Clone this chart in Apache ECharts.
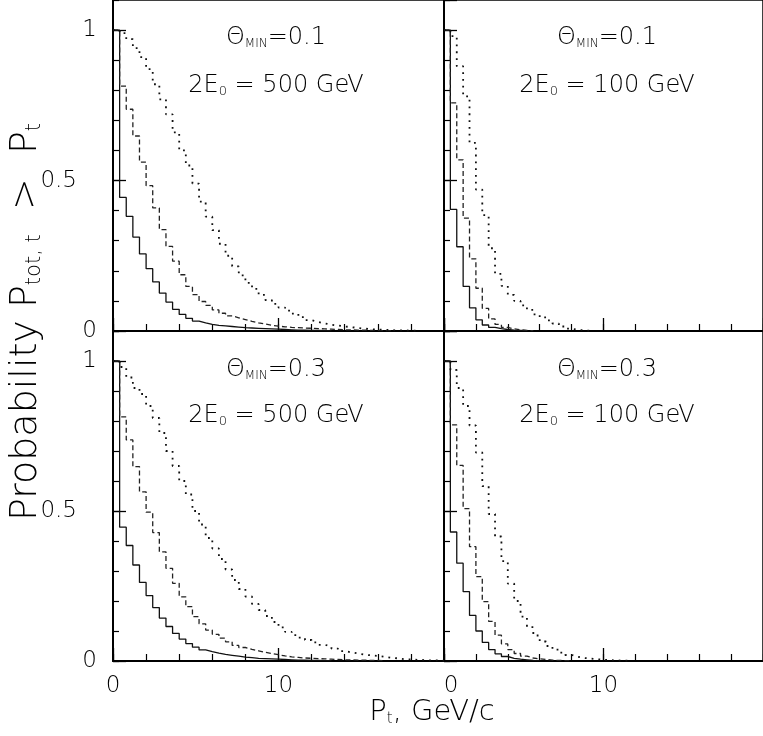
<!DOCTYPE html>
<html>
<head>
<meta charset="utf-8">
<script src="https://cdn.jsdelivr.net/npm/echarts@6/dist/echarts.min.js"></script>
<style>
  html, body { margin: 0; padding: 0; background: #fff; }
  #chart { width: 763px; height: 736px; }
</style>
</head>
<body>
<div id="chart"></div>
<script>
// histogram bin width in GeV/c, every panel starts at 0
var binWidth = 0.4;

// tick labels
var xTickLabels = [0, 10];
var yTickLabels = [0, 0.5, 1];

// Theta_min = 0.1, 2E0 = 500 GeV (top left)
var tlSolid = [1.0, 0.444, 0.381, 0.312, 0.256, 0.207, 0.163, 0.126, 0.096, 0.072, 0.055, 0.042, 0.033, 0.027, 0.022, 0.019, 0.017, 0.015, 0.013, 0.011, 0.010, 0.009, 0.008, 0.007, 0.006, 0.005, 0.004, 0.003, 0.003, 0.002, 0.002, 0.001, 0.001];
var tlDashed = [1.0, 0.814, 0.737, 0.648, 0.561, 0.483, 0.409, 0.337, 0.281, 0.232, 0.187, 0.148, 0.121, 0.098, 0.085, 0.070, 0.059, 0.050, 0.044, 0.038, 0.032, 0.027, 0.023, 0.019, 0.016, 0.014, 0.012, 0.011, 0.010, 0.009, 0.008, 0.007, 0.006, 0.005, 0.004, 0.004, 0.003, 0.003, 0.002, 0.002, 0.001, 0.001];
var tlDotted = [1.0, 0.99, 0.97, 0.94, 0.91, 0.87, 0.82, 0.77, 0.72, 0.66, 0.60, 0.55, 0.49, 0.43, 0.38, 0.335, 0.29, 0.25, 0.215, 0.185, 0.16, 0.14, 0.12, 0.103, 0.09, 0.078, 0.068, 0.058, 0.046, 0.036, 0.030, 0.025, 0.021, 0.018, 0.015, 0.013, 0.010, 0.008, 0.006, 0.005, 0.004, 0.003, 0.002, 0.002, 0.001, 0.001];

// Theta_min = 0.1, 2E0 = 100 GeV (top right)
var trSolid = [1.0, 0.404, 0.28, 0.148, 0.077, 0.037, 0.020, 0.012, 0.008, 0.005, 0.003, 0.002, 0.001];
var trDashed = [1.0, 0.758, 0.569, 0.375, 0.24, 0.142, 0.075, 0.040, 0.022, 0.012, 0.007, 0.004, 0.002, 0.001];
var trDotted = [1.0, 0.98, 0.88, 0.78, 0.625, 0.47, 0.385, 0.275, 0.19, 0.15, 0.12, 0.10, 0.085, 0.07, 0.055, 0.045, 0.035, 0.025, 0.015, 0.008, 0.004, 0.002, 0.001];

// Theta_min = 0.3, 2E0 = 500 GeV (bottom left)
var blSolid = [1.0, 0.446, 0.385, 0.32, 0.262, 0.218, 0.178, 0.143, 0.115, 0.092, 0.073, 0.058, 0.046, 0.037, 0.031, 0.026, 0.022, 0.019, 0.016, 0.013, 0.011, 0.009, 0.008, 0.007, 0.006, 0.005, 0.004, 0.003, 0.003, 0.002, 0.002, 0.001, 0.001];
var blDashed = [1.0, 0.814, 0.737, 0.648, 0.564, 0.496, 0.428, 0.364, 0.309, 0.259, 0.214, 0.181, 0.148, 0.124, 0.103, 0.089, 0.076, 0.064, 0.052, 0.045, 0.039, 0.034, 0.029, 0.025, 0.021, 0.017, 0.014, 0.012, 0.010, 0.009, 0.008, 0.007, 0.006, 0.005, 0.004, 0.004, 0.003, 0.003, 0.002, 0.002, 0.001];
var blDotted = [1.0, 0.98, 0.945, 0.91, 0.89, 0.85, 0.81, 0.76, 0.70, 0.65, 0.60, 0.555, 0.50, 0.455, 0.41, 0.375, 0.34, 0.305, 0.27, 0.24, 0.215, 0.19, 0.17, 0.15, 0.13, 0.112, 0.097, 0.086, 0.078, 0.070, 0.062, 0.054, 0.048, 0.041, 0.033, 0.029, 0.025, 0.021, 0.019, 0.017, 0.014, 0.011, 0.009, 0.006, 0.005, 0.004, 0.003, 0.002, 0.002, 0.001];

// Theta_min = 0.3, 2E0 = 100 GeV (bottom right)
var brSolid = [1.0, 0.43, 0.326, 0.231, 0.152, 0.10, 0.062, 0.038, 0.024, 0.015, 0.009, 0.006, 0.004, 0.002, 0.001];
var brDashed = [1.0, 0.787, 0.652, 0.508, 0.381, 0.281, 0.198, 0.132, 0.086, 0.057, 0.038, 0.025, 0.016, 0.010, 0.007, 0.005, 0.003, 0.002, 0.001, 0.001];
var brDotted = [1.0, 0.97, 0.91, 0.85, 0.785, 0.695, 0.583, 0.49, 0.415, 0.333, 0.258, 0.20, 0.148, 0.113, 0.085, 0.065, 0.05, 0.038, 0.028, 0.020, 0.014, 0.010, 0.008, 0.006, 0.004, 0.003, 0.002, 0.001, 0.001];

var thetaLabels = ['0.1', '0.1', '0.3', '0.3'];
var energyLabels = ['500', '100', '500', '100'];

var FONT = 'DejaVu Sans';
var WEIGHT = 200;

// panel boxes: left / top in px
var panels = [
    { left: 113, top: 0, height: 331, showX: false, showY: true, tx: 276, ty1: 38, ty2: 86 },
    { left: 444, top: 0, height: 331, showX: false, showY: false, tx: 607, ty1: 38, ty2: 86 },
    { left: 113, top: 331, height: 330, showX: true, showY: true, tx: 276, ty1: 370, ty2: 416 },
    { left: 444, top: 331, height: 330, showX: true, showY: false, tx: 607, ty1: 370, ty2: 416 }
];
var panelData = [
    [tlSolid, tlDashed, tlDotted],
    [trSolid, trDashed, trDotted],
    [blSolid, blDashed, blDotted],
    [brSolid, brDashed, brDotted]
];

// bin edges -> step points
function hist(values) {
    var d = [];
    for (var i = 0; i < values.length; i++) {
        d.push([i * binWidth, values[i]]);
    }
    d.push([values.length * binWidth, 0]);
    return d;
}

function rich(size, subSize) {
    return {
        t: { fontSize: size, fontFamily: FONT, fontWeight: WEIGHT, fill: '#000', lineHeight: size },
        s: { fontSize: subSize, fontFamily: FONT, fontWeight: WEIGHT, fill: '#000', lineHeight: Math.round(subSize * 0.95), verticalAlign: 'bottom' }
    };
}

var grids = [], xAxes = [], yAxes = [], series = [], graphics = [];
var lineStyles = [
    { color: '#111', width: 1.3, type: 'solid' },
    { color: '#222', width: 1.3, type: [5, 3] },
    { color: '#111', width: 1.8, type: [1.8, 5] }
];

var tickFont = { color: '#000', fontSize: 23, fontFamily: FONT, fontWeight: WEIGHT };

panels.forEach(function (p, g) {
    var isRight = p.left > 200;
    grids.push({
        left: p.left, top: p.top, width: 331, height: p.height,
        show: true, borderColor: '#000', borderWidth: 1.5, backgroundColor: 'transparent'
    });
    // major x axis (labels)
    xAxes.push({
        gridIndex: g, type: 'value', position: 'bottom', min: 0, max: 20, interval: 10,
        axisLine: { show: true, lineStyle: { color: '#000', width: 2 } },
        axisTick: { show: true, inside: true, length: 13, lineStyle: { color: '#000', width: 1.3 } },
        axisLabel: {
            show: p.showX, showMaxLabel: false, margin: 14,
            formatter: function (v) {
                if (xTickLabels.indexOf(v) < 0) return '';
                return (isRight && v === 0) ? '{z|' + v + '}' : '{n|' + v + '}';
            },
            rich: { n: tickFont, z: Object.assign({ padding: [0, 0, 0, 14] }, tickFont) }
        },
        splitLine: { show: false }
    });
    // minor x ticks
    xAxes.push({
        gridIndex: g, type: 'value', position: 'bottom', min: 0, max: 20, interval: 2,
        axisLine: { show: false },
        axisTick: { show: true, inside: true, length: 7, lineStyle: { color: '#000', width: 1.2 } },
        axisLabel: { show: false },
        splitLine: { show: false }
    });
    yAxes.push({
        gridIndex: g, type: 'value', position: 'left', min: 0, max: 1.1, interval: 0.5,
        axisLine: { show: true, lineStyle: { color: '#000', width: 2 } },
        axisTick: { show: true, inside: true, length: 13, lineStyle: { color: '#000', width: 1.3 } },
        axisLabel: {
            show: p.showY, showMaxLabel: false, margin: 16,
            formatter: function (v) {
                if (yTickLabels.indexOf(v) < 0) return '';
                return v === 0.5 ? '{h|' + v + '}' : '{n|' + v + '}';
            },
            rich: { n: tickFont, h: Object.assign({ padding: [0, 20, 0, 0] }, tickFont) }
        },
        splitLine: { show: false }
    });
    yAxes.push({
        gridIndex: g, type: 'value', position: 'left', min: 0, max: 1.1, interval: 0.1,
        axisLine: { show: false },
        axisTick: { show: true, inside: true, length: 6, lineStyle: { color: '#000', width: 1.2 } },
        axisLabel: { show: false },
        splitLine: { show: false }
    });

    panelData[g].forEach(function (vals, k) {
        series.push({
            type: 'line', step: 'end', xAxisIndex: 2 * g, yAxisIndex: 2 * g,
            data: hist(vals), showSymbol: false, symbol: 'none',
            lineStyle: lineStyles[k], silent: true, clip: true
        });
    });

    graphics.push({
        type: 'text', x: p.tx, y: p.ty1,
        style: {
            text: '{t|Θ}{s|MIN}{t|=' + thetaLabels[g] + '}',
            align: 'center', verticalAlign: 'middle',
            rich: rich(24, 12)
        }
    });
    graphics.push({
        type: 'text', x: p.tx, y: p.ty2,
        style: {
            text: '{t|2E}{s|0}{t| = ' + energyLabels[g] + ' GeV}',
            align: 'center', verticalAlign: 'middle',
            rich: rich(24, 13)
        }
    });
});

// axis titles
graphics.push({
    type: 'text', x: 432, y: 712,
    style: {
        text: '{t|P}{s|t}{t|, GeV/c}',
        align: 'center', verticalAlign: 'middle',
        rich: rich(29, 15)
    }
});
graphics.push({
    type: 'text', x: 26, y: 322, rotation: Math.PI / 2,
    style: {
        text: '{t|Probability P}{s|tot, t}{t|  >  P}{s|t}',
        align: 'center', verticalAlign: 'middle',
        rich: rich(38, 21)
    }
});

var myChart = echarts.init(document.getElementById('chart'), null, { renderer: 'canvas' });
myChart.setOption({
    animation: false,
    backgroundColor: '#fff',
    grid: grids,
    xAxis: xAxes,
    yAxis: yAxes,
    series: series,
    graphic: graphics
});
</script>
</body>
</html>
